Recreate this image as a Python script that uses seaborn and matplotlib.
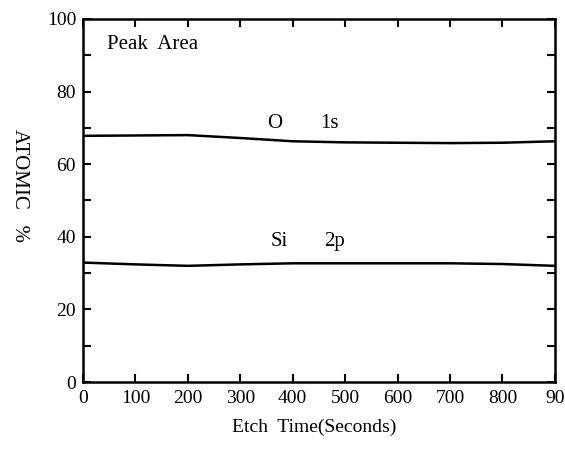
import numpy as np
import pandas as pd
import seaborn as sns
import matplotlib.pyplot as plt
from matplotlib.ticker import MultipleLocator

# etch time (s) and atomic %
etch_time = [0, 100, 200, 300, 400, 500, 600, 700, 800, 900]
o_1s = [67.8, 67.9, 68.0, 67.2, 66.3, 66.0, 65.9, 65.8, 65.9, 66.3]
si_2p = [32.9, 32.4, 32.0, 32.4, 32.7, 32.7, 32.7, 32.7, 32.5, 32.0]

x_ticks = [0, 100, 200, 300, 400, 500, 600, 700, 800, 900]
x_tick_labels = ['0', '100', '200', '300', '400', '500', '600', '700', '800', '90']
y_ticks = [0, 20, 40, 60, 80, 100]

df = pd.DataFrame({'time': etch_time * 2,
                   'pct': o_1s + si_2p,
                   'peak': ['O 1s'] * len(etch_time) + ['Si 2p'] * len(etch_time)})

sns.set_style('ticks')
plt.rcParams['font.family'] = ['Liberation Serif', 'DejaVu Serif']
plt.rcParams['text.color'] = 'black'
plt.rcParams['axes.labelcolor'] = 'black'

fig = plt.figure(figsize=(5.65, 4.5), dpi=100)
ax = fig.add_axes([0.147, 0.151, 0.835, 0.807])

sns.lineplot(data=df, x='time', y='pct', units='peak', estimator=None,
             color='black', linewidth=1.8, ax=ax)

ax.set_xlim(0, 900)
ax.set_ylim(0, 100)
ax.set_xticks(x_ticks)
ax.set_xticklabels(x_tick_labels)
ax.set_yticks(y_ticks)
ax.yaxis.set_minor_locator(MultipleLocator(10))
ax.tick_params(which='both', direction='in', top=True, right=True,
               labelsize=14, width=1.5, length=6, colors='black')
ax.tick_params(axis='x', pad=6)
ax.tick_params(axis='y', pad=5)
for s in ax.spines.values():
    s.set_linewidth(1.8)
    s.set_color('black')

ax.set_xlabel('Etch  Time(Seconds)', fontsize=14)
ax.xaxis.set_label_coords(0.49, -0.1)
ax.set_ylabel('ATOMIC   %', fontsize=15, rotation=-90, va='center')
ax.yaxis.set_label_coords(-0.135, 0.54)

ax.text(0.05, 0.955, 'Peak  Area', transform=ax.transAxes, fontsize=15, va='top')
ax.text(366, 68.6, 'O', fontsize=15, ha='center', va='bottom')
ax.text(470, 68.6, '1s', fontsize=15, ha='center', va='bottom')
ax.text(375, 36.0, 'Si', fontsize=15, ha='center', va='bottom')
ax.text(480, 36.0, '2p', fontsize=15, ha='center', va='bottom')

fig.savefig('out.png', dpi=100)
